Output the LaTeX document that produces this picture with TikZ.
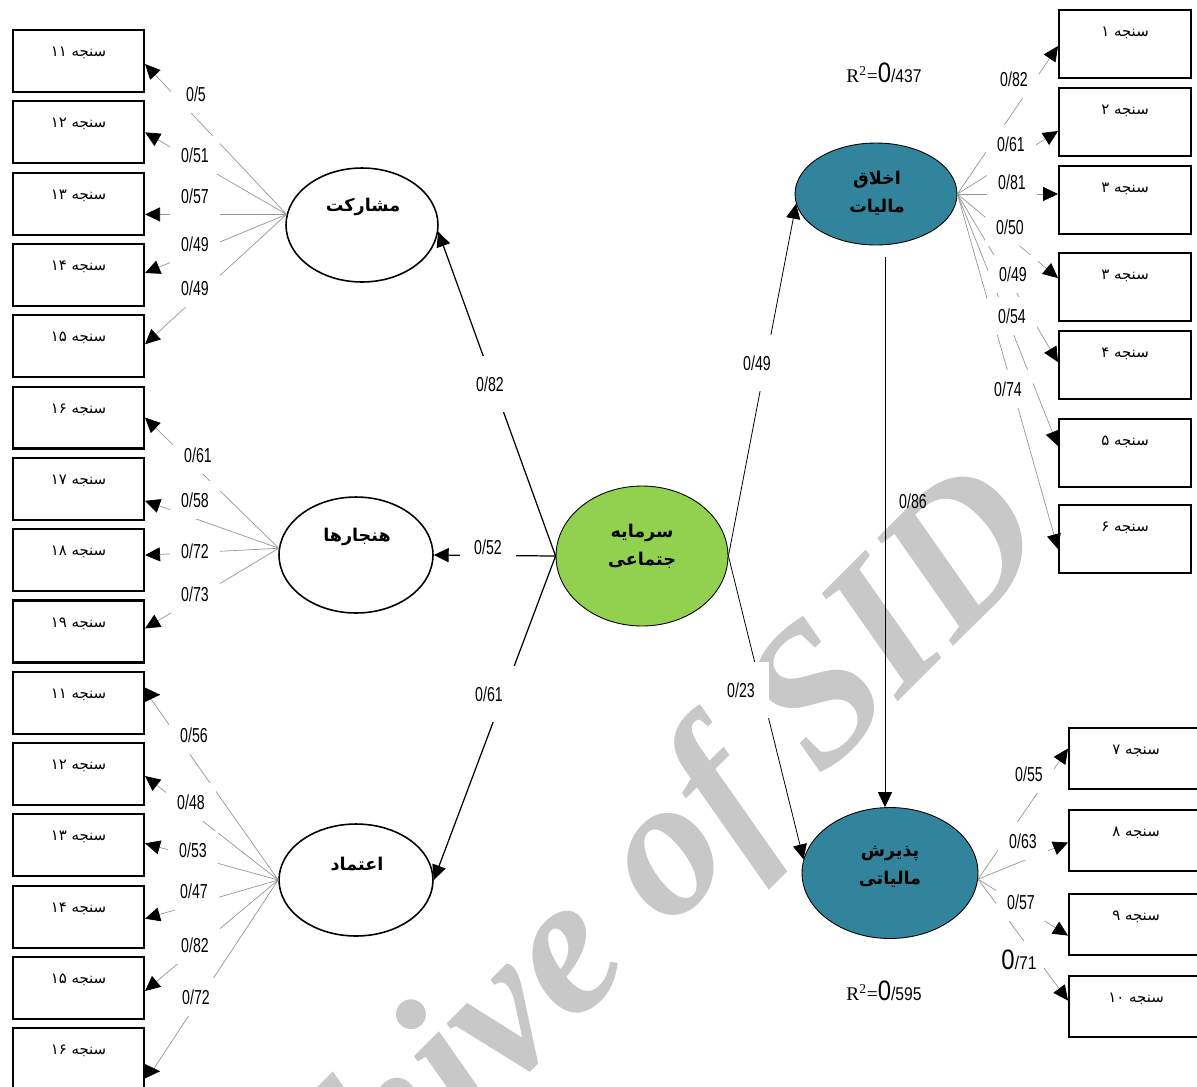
\documentclass[tikz,border=0pt]{standalone}
\usepackage{fontspec}
\usetikzlibrary{arrows.meta,calc,shapes.geometric}
\setmainfont{Liberation Serif}
\newfontfamily\arabicfont[Script=Arabic]{DejaVu Sans}
\newfontfamily\narrowfont[FakeStretch=0.7]{Liberation Sans}
\newfontfamily\rsqfont[FakeStretch=0.85]{Liberation Sans}
\newfontfamily\wmfont{Liberation Serif}
\TeXXeTstate=1
\definecolor{wmc}{RGB}{200,200,200}
\definecolor{lgreen}{RGB}{146,208,80}
\definecolor{tealc}{RGB}{49,132,155}
\definecolor{loadc}{RGB}{150,150,150}
\tikzset{
  lbox/.style={draw, line width=1.2pt, fill=white, rectangle, inner sep=0pt,
    minimum width=2.62cm, minimum height=1.24cm, anchor=north west},
  rbox/.style={lbox, minimum width=2.64cm, minimum height=1.36cm},
  qbox/.style={lbox, minimum width=2.68cm, minimum height=1.22cm},
  btxt/.style={font=\arabicfont\fontsize{8.5pt}{9pt}\selectfont, inner sep=0pt},
  lat/.style={ellipse, draw, line width=0.9pt, fill=white, inner sep=0pt},
  latc/.style={ellipse, draw=black, line width=0.5pt, inner sep=0pt},
  etxt/.style={font=\arabicfont\bfseries\fontsize{10pt}{16pt}\selectfont, align=center, inner sep=0pt},
  load/.style={draw=loadc, line width=0.4pt, -{Triangle[length=8.5pt,width=8pt,color=black,fill=black]}},
  loadn/.style={draw=loadc, line width=0.4pt},
  tipr/.style={draw=black, line width=0.1pt, -{Triangle[length=8.5pt,width=8pt]}},
  strl/.style={draw=black, line width=0.7pt, -{Triangle[length=8.5pt,width=8pt]}},
  strr/.style={draw=black, line width=0.45pt, -{Triangle[length=8.5pt,width=8pt]}},
  lab/.style={font=\narrowfont\fontsize{11.5pt}{12pt}\selectfont, fill=white, inner sep=0pt,
    minimum width=1.0cm, minimum height=0.76cm},
  slab/.style={lab, minimum width=1.12cm, minimum height=1.12cm},
  plab/.style={font=\narrowfont\fontsize{11.5pt}{12pt}\selectfont, inner sep=0pt},
}
\newcommand\mkbox[5]{%
  \node[#1] (#2) at (#3,#4) {};
  \node[btxt] (#2t) at ($(#2.north)+(0,24)$) {\beginR سنجه \beginL#5\endL\endR};}
\begin{document}
\begin{tikzpicture}[x=0.02cm, y=-0.02cm]
\useasboundingbox (0,0) rectangle (1197,1086);
\clip (0,0) rectangle (1197,1086);
% watermark
\node[font=\wmfont\bfseries\itshape\fontsize{113pt}{115pt}\selectfont, text=wmc,
  rotate=45, anchor=base west, inner sep=0pt] (wm) at (182,1418) {Archive of SID};
% left indicator boxes
\mkbox{lbox}{l1}{12}{29}{۱۱}
\mkbox{lbox}{l2}{12}{100.3}{۱۲}
\mkbox{lbox}{l3}{12}{171.6}{۱۳}
\mkbox{lbox}{l4}{12}{242.9}{۱۴}
\mkbox{lbox}{l5}{12}{314.2}{۱۵}
\mkbox{lbox}{l6}{12}{385.5}{۱۶}
\mkbox{lbox}{l7}{12}{456.8}{۱۷}
\mkbox{lbox}{l8}{12}{528.1}{۱۸}
\mkbox{lbox}{l9}{12}{599.4}{۱۹}
\mkbox{lbox}{l10}{12}{670.7}{۱۱}
\mkbox{lbox}{l11}{12}{742}{۱۲}
\mkbox{lbox}{l12}{12}{813.3}{۱۳}
\mkbox{lbox}{l13}{12}{884.6}{۱۴}
\mkbox{lbox}{l14}{12}{955.9}{۱۵}
\mkbox{lbox}{l15}{12}{1027.2}{۱۶}
% right indicator boxes
\mkbox{rbox}{r1}{1058}{9}{۱}
\mkbox{rbox}{r2}{1058}{87}{۲}
\mkbox{rbox}{r3}{1058}{165}{۳}
\mkbox{rbox}{r3b}{1058}{252}{۳}
\mkbox{rbox}{r4}{1058}{330}{۴}
\mkbox{rbox}{r5}{1058}{418}{۵}
\mkbox{rbox}{r6}{1058}{504}{۶}
\mkbox{qbox}{r7}{1068}{727}{۷}
\mkbox{qbox}{r8}{1068}{809}{۸}
\mkbox{qbox}{r9}{1068}{893}{۹}
\mkbox{qbox}{r10}{1068}{975}{۱۰}
% latent variables
\node[lat, minimum width=3.04cm, minimum height=2.28cm] (e1) at (362,225) {};
\node[lat, minimum width=3.08cm, minimum height=2.32cm] (e2) at (356,555) {};
\node[lat, minimum width=3.08cm, minimum height=2.24cm] (e3) at (356,880) {};
\node[latc, fill=lgreen, minimum width=3.44cm, minimum height=2.8cm] (ce) at (642,556) {};
\node[latc, fill=tealc, minimum width=3.24cm, minimum height=2.04cm] (e4) at (876,194) {};
\node[latc, fill=tealc, minimum width=3.52cm, minimum height=2.62cm] (e5) at (890,873) {};
\node[etxt] (e1t) at (363,207) {\beginR مشارکت\endR};
\node[etxt] (e2t) at (357,537) {\beginR هنجارها\endR};
\node[etxt] (e3t) at (357,864) {\beginR اعتماد\endR};
\node[etxt] (cet) at (642,546) {\beginR سرمایه\endR\\\beginR جتماعی\endR};
\node[etxt] (e4t) at (877,193) {\beginR اخلاق\endR\\\beginR مالیات\endR};
\node[etxt] (e5t) at (890,867) {\beginR پذیرش\endR\\\beginR مالیاتی\endR};
% loadings: مشارکت
\draw[load] (e1.172) -- ($(l1.east)+(0,3)$);
\draw[load] (e1.172) -- (l2.east);
\draw[load] (e1.172) -- (l3.east |- e1.172);
\draw[load] (e1.172) -- ($(l4.east)+(0,-2)$);
\draw[load] (e1.172) -- ($(l5.east)+(0,-2)$);
% loadings: هنجارها
\draw[load] (e2.175) -- (l6.east);
\draw[load] (e2.175) -- ($(l7.east)+(0,12)$);
\draw[load] (e2.175) -- ($(l8.east)+(0,-5)$);
\draw[load] (e2.175) -- ($(l9.east)+(0,-3)$);
% loadings: اعتماد
\draw[loadn] (e3.west) -- ($(l10.east)+(5,-5)$);
\draw[tipr] ($(l10.east)+(0,-8)$) -- ++(15,0);
\draw[load] (e3.west) -- ($(l11.east)+(0,2)$);
\draw[load] (e3.west) -- ($(l12.east)+(0,-2)$);
\draw[load] (e3.west) -- ($(l13.east)+(0,2)$);
\draw[load] (e3.west) -- ($(l14.east)+(0,3)$);
\draw[loadn] (e3.west) -- ($(l15.east)+(7,12)$);
\draw[tipr] ($(l15.east)+(0,12)$) -- ++(15,0);
% loadings: اخلاق مالیات
\draw[load] (e4.east) -- ($(r1.west)+(0,2)$);
\draw[load] (e4.east) -- ($(r2.west)+(0,9)$);
\draw[load] (e4.east) -- (r3.west |- e4.east);
\draw[load] (e4.east) -- ($(r3b.west)+(0,-9)$);
\draw[load] (e4.east) -- ($(r4.west)+(0,-3)$);
\draw[load] (e4.east) -- ($(r5.west)+(0,-7)$);
\draw[load] (e4.east) -- ($(r6.west)+(0,10)$);
% loadings: پذیرش مالیاتی
\draw[load] (e5.-4) -- ($(r7.west)+(0,-10)$);
\draw[load] (e5.-4) -- ($(r8.west)+(0,2)$);
\draw[load] (e5.-4) -- ($(r9.west)+(0,11)$);
\draw[load] (e5.-4) -- ($(r10.west)+(0,-6)$);
% structural paths
\draw[strl] (ce.west) -- (e1.-5);
\draw[strl] (ce.west) -- (e2.east);
\draw[strl] (ce.west) -- (e3.east);
\draw[strr] (ce.east) -- (e4.187);
\draw[strr] (ce.east) -- (e5.171);
\draw[strr] ($(e5.north |- e4.south)+(-5,12)$) -- ($(e5.north)+(-5,0)$);
% loading labels, left
\node[lab] (a1) at (196,94) {0/5};
\node[lab] (a2) at (195,155) {0/51};
\node[lab] (a3) at (195,196) {0/57};
\node[lab] (a4) at (195,244) {0/49};
\node[lab] (a5) at (195,288) {0/49};
\node[lab] (a6) at (198,455) {0/61};
\node[lab] (a7) at (195,500) {0/58};
\node[lab] (a8) at (195,551) {0/72};
\node[lab] (a9) at (195,594) {0/73};
\node[lab] (a10) at (194,735) {0/56};
\node[lab] (a11) at (191,802) {0/48};
\node[lab] (a12) at (193,850) {0/53};
\node[lab] (a13) at (194,891) {0/47};
\node[lab] (a14) at (195,945) {0/82};
\node[lab] (a15) at (196,997) {0/72};
% loading labels, right
\node[lab] (b1) at (1014,79) {0/82};
\node[lab] (b2) at (1011,144) {0/61};
\node[lab] (b3) at (1012,182) {0/81};
\node[lab] (b4) at (1010,227) {0/50};
\node[lab] (b5) at (1013,274) {0/49};
\node[lab] (b6) at (1012,316) {0/54};
\node[lab] (b7) at (1008,389) {0/74};
\node[lab] (b8) at (1029,774) {0/55};
\node[lab] (b9) at (1023,841) {0/63};
\node[lab] (b10) at (1021,902) {0/57};
\node[lab] (b11) at (1019,960) {\rsqfont\fontsize{16pt}{16pt}\selectfont 0\fontsize{10.5pt}{12pt}\selectfont/71};
% structural labels
\node[slab] (s1) at (490,384) {0/82};
\node[slab] (s2) at (488,547) {0/52};
\node[slab] (s3) at (489,694) {0/61};
\node[slab] (s4) at (757,363) {0/49};
\node[slab] (s5) at (741,690) {0/23};
\node[plab] (s6) at (913,501) {0/86};
% R squared
\node[inner sep=0pt] (rsq1) at (884,73) {\fontsize{11pt}{12pt}\selectfont R\textsuperscript{2}=\rsqfont\fontsize{16pt}{16pt}\selectfont 0\fontsize{10.5pt}{12pt}\selectfont/437};
\node[inner sep=0pt] (rsq2) at (884,991) {\fontsize{11pt}{12pt}\selectfont R\textsuperscript{2}=\rsqfont\fontsize{16pt}{16pt}\selectfont 0\fontsize{10.5pt}{12pt}\selectfont/595};
\end{tikzpicture}
\end{document}
